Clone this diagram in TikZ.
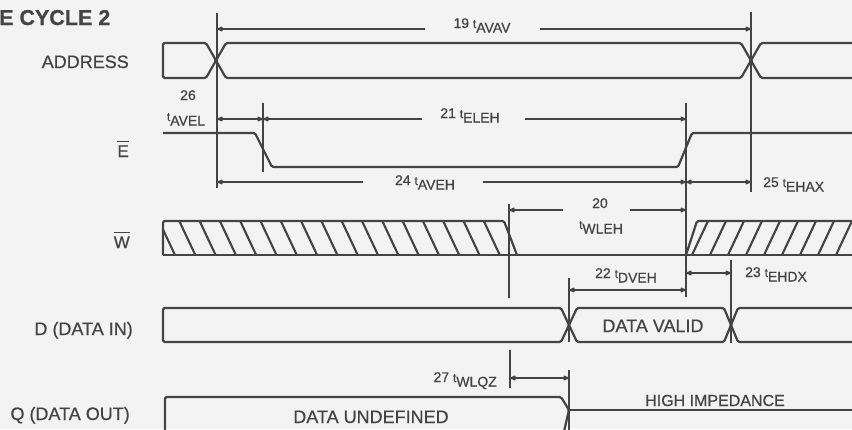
\documentclass[tikz,border=0pt]{standalone}
\usepackage{fontspec}
\setmainfont[FakeBold=0.6]{Liberation Sans}
\usetikzlibrary{arrows.meta}
\definecolor{bg}{RGB}{243,243,243}
\definecolor{ink}{RGB}{68,68,68}
\newcommand{\tsb}[1]{{\fontsize{12}{12}\selectfont t}\raisebox{-4.5pt}{#1}}
\newcommand{\ovl}[1]{\vbox{\hrule height 1.3pt\kern 3pt\hbox{#1}}}
\tikzset{
  sig/.style={line width=2.2pt, rounded corners=1.5pt, line join=round},
  hatchline/.style={line width=2.1pt},
  refline/.style={line width=2pt},
  dimB/.style={line width=2pt, {Latex[length=8pt,width=6pt,round]}-{Latex[length=8pt,width=6pt,round]}},
  dimL/.style={line width=2pt, {Latex[length=8pt,width=6pt,round]}-},
  dimR/.style={line width=2pt, -{Latex[length=8pt,width=6pt,round]}},
  lab/.style={font=\fontsize{14}{14}\selectfont, inner sep=0pt, text=ink},
  sigl/.style={font=\fontsize{18}{18}\selectfont, anchor=base east, inner sep=0pt, text=ink},
  boxtxt/.style={font=\fontsize{18}{18}\selectfont, anchor=base, inner sep=0pt, text=ink}
}
\begin{document}
\begin{tikzpicture}[x=1pt,y=-1pt,color=ink]
\fill[bg] (0,0) rectangle (852,429);
\useasboundingbox (0,0) rectangle (852,429);
\begin{scope}
\clip (0,0) rectangle (852,429);

% ---- title and signal names
\node[anchor=base west, inner sep=0pt, text=ink, font=\bfseries\fontsize{21.5}{21.5}\selectfont] (title) at (-1,25) {E CYCLE 2};
\node[sigl] (addr) at (129,68) {ADDRESS};
\node[sigl, font=\fontsize{17}{17}\selectfont] (ebar) at (129,157) {\ovl{E}};
\node[sigl, font=\fontsize{17}{17}\selectfont] (wbar) at (130,248) {\ovl{W}};
\node[sigl] (din) at (133,335) {D (DATA IN)};
\node[sigl] (qout) at (130,420) {Q (DATA OUT)};

% ---- ADDRESS
\draw[sig] (163,43) -- (206,43) -- (216,60.5) -- (206,78) -- (163,78) -- cycle;
\draw[sig] (216,60.5) -- (226,43) -- (741,43) -- (751,60.5) -- (741,78) -- (226,78) -- cycle;
\draw[sig] (870,43) -- (761,43) -- (751,60.5) -- (761,78) -- (870,78);

% ---- E bar
\draw[sig] (163,133) -- (255,133) -- (272,167) -- (678,167) -- (692,133) -- (870,133);

% ---- W bar (hatched regions)
\begin{scope}
\clip (163,221) -- (504,221) -- (517,255) -- (163,255) -- cycle;
\foreach \k in {0,...,17} \draw[hatchline] ({159+20.3*\k},221) -- ({175+20.3*\k},255);
\end{scope}
\begin{scope}
\clip (686,255) -- (697,221) -- (870,221) -- (870,255) -- cycle;
\foreach \k in {0,...,10} \draw[hatchline] ({692+18*\k},255) -- ({708+18*\k},221);
\end{scope}
\draw[sig] (163,255) -- (163,221) -- (504,221) -- (517,255);
\draw[sig] (163,255) -- (870,255);
\draw[sig] (686,255) -- (697,221) -- (870,221);

% ---- D (data in)
\draw[sig] (163,308) -- (561,308) -- (569,325) -- (561,342) -- (163,342) -- cycle;
\draw[sig] (569,325) -- (577,308) -- (724,308) -- (731,325) -- (724,342) -- (577,342) -- cycle;
\draw[sig] (870,308) -- (738,308) -- (731,325) -- (738,342) -- (870,342);
\node[boxtxt] (valid) at (653,332) {DATA VALID};

% ---- Q (data out)
\draw[sig] (165,440) -- (165,397) -- (561,397) -- (569,410) -- (562,440);
\draw[sig] (569,410) -- (870,410);
\node[boxtxt] (undef) at (371,423) {DATA UNDEFINED};
\node[boxtxt, font=\fontsize{16}{16}\selectfont] (himp) at (715,406) {HIGH IMPEDANCE};

% ---- reference (extension) lines
\draw[refline] (217,13) -- (217,188);
\draw[refline] (751,12) -- (751,192);
\draw[refline] (263,103) -- (263,172);
\draw[refline] (686,103) -- (686,297);
\draw[refline] (509,204) -- (509,298);
\draw[refline] (569,278) -- (569,342);
\draw[refline] (569,370) -- (569,432);
\draw[refline] (731,260) -- (731,343);
\draw[refline] (510,350) -- (510,388);

% ---- dimension arrows
% 19 tAVAV
\draw[dimL] (217,29) -- (425,29);
\draw[dimR] (540,29) -- (751,29);
\node[lab, anchor=base] (t19) at (482,28) {19 \tsb{AVAV}};
% 26 tAVEL
\draw[dimB] (217,119) -- (263,119);
\node[lab, anchor=base] (n26) at (188,100) {26};
\node[lab, anchor=base] (t26) at (186,121) {\tsb{AVEL}};
% 21 tELEH
\draw[dimL] (263,119) -- (422,119);
\draw[dimR] (525,119) -- (686,119);
\node[lab, anchor=base] (t21) at (470,118) {21 \tsb{ELEH}};
% 24 tAVEH
\draw[dimL] (217,182) -- (363,182);
\draw[dimR] (483,182) -- (686,182);
\node[lab, anchor=base] (t24) at (425,185) {24 \tsb{AVEH}};
% 25 tEHAX
\draw[dimB] (686,182) -- (751,182);
\node[lab, anchor=base west] (t25) at (763,187) {25 \tsb{EHAX}};
% 20 tWLEH
\draw[dimL] (509,210) -- (563,210);
\draw[dimR] (630,210) -- (686,210);
\node[lab, anchor=base] (n20) at (600,208) {20};
\node[lab, anchor=base] (t20) at (601,229) {\tsb{WLEH}};
% 22 tDVEH
\draw[dimB] (569,290) -- (686,290);
\node[lab, anchor=base] (t22) at (626,278) {22 \tsb{DVEH}};
% 23 tEHDX
\draw[dimB] (686,273) -- (731,273);
\node[lab, anchor=base west] (t23) at (745,277) {23 \tsb{EHDX}};
% 27 tWLQZ
\draw[dimB] (510,378) -- (569,378);
\node[lab, anchor=base east] (t27) at (497,382) {27 \tsb{WLQZ}};
\end{scope}
\end{tikzpicture}
\end{document}
